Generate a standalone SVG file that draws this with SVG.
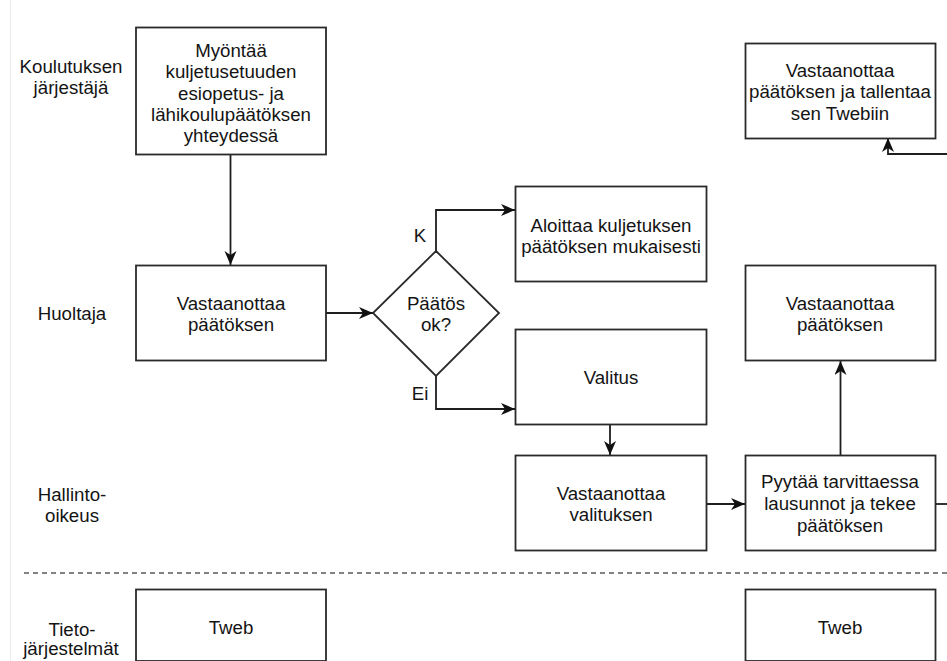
<svg xmlns="http://www.w3.org/2000/svg" width="947" height="661" viewBox="0 0 947 661">
  <style>
    .box { fill: #ffffff; stroke: #2a2a2a; stroke-width: 1.8; }
    .lbl { font-family: "Liberation Sans", Arial, sans-serif; font-size: 18.7px; fill: #141414; text-anchor: middle; }
    .edge { fill: none; stroke: #1e1e1e; stroke-width: 1.8; }
    .arrow { marker-end: url(#head); }
  </style>
  <defs>
    <marker id="head" markerUnits="userSpaceOnUse" markerWidth="15" markerHeight="13" refX="14" refY="6" orient="auto">
      <path d="M0,0 L14,6 L0,12 L4,6 z" fill="#111111"/>
    </marker>
  </defs>

  <rect x="0" y="0" width="947" height="661" fill="#ffffff"/>
  <!-- page edge -->
  <line x1="10.5" y1="0" x2="10.5" y2="661" stroke="#ececec" stroke-width="1"/>

  <!-- lane labels -->
  <g id="lanes">
    <text class="lbl" x="71" y="73">Koulutuksen</text>
    <text class="lbl" x="71" y="94">järjestäjä</text>
    <text class="lbl" x="72" y="320">Huoltaja</text>
    <text class="lbl" x="72" y="501">Hallinto-</text>
    <text class="lbl" x="72" y="522">oikeus</text>
    <text class="lbl" x="72" y="636">Tieto-</text>
    <text class="lbl" x="71" y="655">järjestelmät</text>
  </g>

  <!-- system separator -->
  <line x1="24" y1="573" x2="947" y2="573" stroke="#5a5a5a" stroke-width="1.6" stroke-dasharray="5 4"/>

  <!-- connectors -->
  <g id="connectors">
    <path class="edge arrow" d="M230.5,155 L230.5,265"/>
    <path class="edge arrow" d="M326,313 L373,313"/>
    <path class="edge arrow" d="M436,251 L436,210 L515,210"/>
    <path class="edge arrow" d="M436,376 L436,409 L515,409"/>
    <path class="edge arrow" d="M610,424 L610,455"/>
    <path class="edge arrow" d="M706,504 L745,504"/>
    <path class="edge arrow" d="M840.5,455 L840.5,361"/>
    <path class="edge" d="M935,504 L947,504"/>
    <path class="edge arrow" d="M947,154 L888,154 L888,138"/>
  </g>

  <g id="n-myontaa">
    <rect class="box" x="136" y="27.5" width="190" height="127"/>
    <text class="lbl" x="231" y="57">Myöntää</text>
    <text class="lbl" x="231" y="78">kuljetusetuuden</text>
    <text class="lbl" x="231" y="100">esiopetus- ja</text>
    <text class="lbl" x="231" y="121">lähikoulupäätöksen</text>
    <text class="lbl" x="231" y="142">yhteydessä</text>
  </g>

  <g id="n-huoltaja-vastaanottaa">
    <rect class="box" x="136" y="265.5" width="190" height="95"/>
    <text class="lbl" x="231" y="310">Vastaanottaa</text>
    <text class="lbl" x="231" y="331">päätöksen</text>
  </g>

  <g id="n-paatos-ok">
    <polygon class="box" points="436,251 499,313 436,376 373,313"/>
    <text class="lbl" x="436" y="310">Päätös</text>
    <text class="lbl" x="436" y="331">ok?</text>
  </g>

  <g id="edge-labels">
    <text class="lbl" x="420" y="242">K</text>
    <text class="lbl" x="420" y="400">Ei</text>
  </g>

  <g id="n-aloittaa">
    <rect class="box" x="515.5" y="186.5" width="191" height="95"/>
    <text class="lbl" x="611" y="232">Aloittaa kuljetuksen</text>
    <text class="lbl" x="611" y="253">päätöksen mukaisesti</text>
  </g>

  <g id="n-valitus">
    <rect class="box" x="515.5" y="329.5" width="191" height="95"/>
    <text class="lbl" x="611" y="384">Valitus</text>
  </g>

  <g id="n-vastaanottaa-valituksen">
    <rect class="box" x="515.5" y="455.5" width="191" height="95"/>
    <text class="lbl" x="611" y="500">Vastaanottaa</text>
    <text class="lbl" x="611" y="521">valituksen</text>
  </g>

  <g id="n-pyytaa">
    <rect class="box" x="745.5" y="455.5" width="190" height="95"/>
    <text class="lbl" x="840" y="488">Pyytää tarvittaessa</text>
    <text class="lbl" x="840" y="510">lausunnot ja tekee</text>
    <text class="lbl" x="840" y="532">päätöksen</text>
  </g>

  <g id="n-vastaanottaa-paatoksen-2">
    <rect class="box" x="745.5" y="265.5" width="190" height="95"/>
    <text class="lbl" x="840" y="310">Vastaanottaa</text>
    <text class="lbl" x="840" y="331">päätöksen</text>
  </g>

  <g id="n-tallentaa">
    <rect class="box" x="745.5" y="43.5" width="190" height="95"/>
    <text class="lbl" x="840" y="77">Vastaanottaa</text>
    <text class="lbl" x="840" y="98">päätöksen ja tallentaa</text>
    <text class="lbl" x="840" y="120">sen Twebiin</text>
  </g>

  <g id="n-tweb-1">
    <rect class="box" x="136" y="589.5" width="190" height="71.5"/>
    <text class="lbl" x="231" y="634">Tweb</text>
  </g>

  <g id="n-tweb-2">
    <rect class="box" x="745.5" y="589.5" width="190" height="71.5"/>
    <text class="lbl" x="840" y="634">Tweb</text>
  </g>
</svg>
